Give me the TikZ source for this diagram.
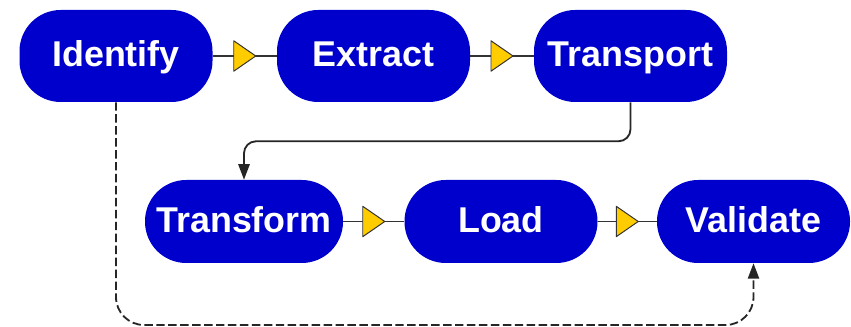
\documentclass[tikz,border=0pt]{standalone}
\usepackage{fontspec}
\setmainfont{Liberation Sans}
\usetikzlibrary{arrows.meta, decorations.markings}

\definecolor{stageblue}{HTML}{0000CC}
\definecolor{tipyellow}{HTML}{FFCC00}

\begin{document}
\begin{tikzpicture}[
	stage/.style={fill=stageblue, rounded corners=1.03cm, text=white, inner sep=0pt,
		font=\bfseries\fontsize{25.5}{30}\selectfont, text height=18.3pt, text depth=2.7pt,
		minimum width=4.825cm, minimum height=2.3cm},
	low/.style={minimum height=2.075cm},
	flow/.style={draw=black!80, line width=1.3pt, postaction={decorate},
		decoration={markings, mark=at position 0.5 with {
			\draw[fill=tipyellow, draw=black!80, line width=0.7pt, line join=round]
				(-0.275,0.38) -- (0.275,0) -- (-0.275,-0.38) -- cycle;}}},
	jump/.style={draw=black!85, line width=1.3pt, -{Triangle[length=11pt, width=8pt]}},
]
	\useasboundingbox (0,0) rectangle (21.275, 8.175);

	\node[stage]                           (identify)  at ( 2.9,    6.775 ) {Identify};
	\node[stage]                           (extract)   at ( 9.3375, 6.775 ) {Extract};
	\node[stage]                           (transport) at (15.7625, 6.775 ) {Transport};
	\node[stage, low, minimum width=4.95cm] (transform) at ( 6.1,    2.6375) {Transform};
	\node[stage, low]                      (load)      at (12.525,  2.6375) {Load};
	\node[stage, low]                      (validate)  at (18.8375, 2.6375) {Validate};

	\coordinate (floor) at (0, 0.05);

	\draw[flow] (identify)  -- (extract);
	\draw[flow] (extract)   -- (transport);
	\draw[flow] (transform) -- (load);
	\draw[flow] (load)      -- (validate);

	\draw[jump, rounded corners=0.3cm] (transport.south) -- ++(0,-0.975) -| (transform.north);
	\draw[jump, rounded corners=0.7cm, dash pattern=on 6pt off 2.5pt]
		(identify.south) -- (identify.south |- floor) -| (validate.south);
\end{tikzpicture}
\end{document}
